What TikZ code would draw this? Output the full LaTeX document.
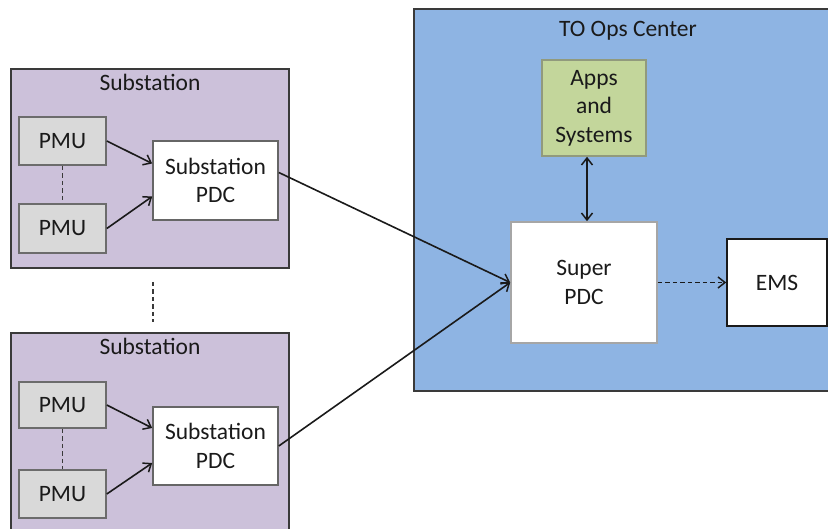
\documentclass[tikz,border=0pt]{standalone}
\usepackage{fontspec}
\setmainfont{Carlito}
\usetikzlibrary{arrows.meta}
\definecolor{subfill}{HTML}{CCC1DA}
\definecolor{opsfill}{HTML}{8EB4E3}
\definecolor{appfill}{HTML}{C3D69B}
\definecolor{pmufill}{HTML}{D9D9D9}
\definecolor{txt}{HTML}{1A1A1A}
\definecolor{edge}{HTML}{3A3A3A}
\tikzset{
  every node/.style={font=\fontsize{23.5}{28.5}\selectfont, text=txt},
  outerbox/.style={draw=edge, line width=1.6pt},
  box/.style={rectangle, inner sep=0pt, align=center, line width=1.6pt},
  pmubox/.style={box, fill=pmufill, draw=gray!85!black, minimum width=87pt},
  pdcbox/.style={box, fill=white, draw=gray!80!black, minimum width=125pt, minimum height=78pt},
  tip/.tip={Straight Barb[length=7pt,width=11pt,line width=1.5pt]},
  link/.style={line width=1.6pt, draw=txt, -tip},
  dline/.style={line width=1.6pt, draw=edge, dash pattern=on 4.5pt off 3pt},
}
\begin{document}
\begin{tikzpicture}[x=1pt,y=-1pt]
\useasboundingbox (0,0) rectangle (828,529);
\clip (0,0) rectangle (828,529);
% top substation
\draw[outerbox, fill=subfill] (11,69) rectangle (289,268);
\node[anchor=base] (t1) at (150,91) {Substation};
\node[pmubox, minimum height=48pt] (pa1) at (62.5,141) {PMU};
\node[pmubox, minimum height=49pt] (pa2) at (62.5,228.5) {PMU};
\node[pdcbox, minimum height=79pt] (da) at (215.5,180.5) {Substation\\PDC};
\draw[link] (pa1.east) -- ([yshift=17pt]da.west);
\draw[link] (pa2.east) -- ([yshift=-16pt]da.west);
\draw[dline] (pa1.south) -- (pa2.north);
% dots between
\coordinate (v1) at (153,282);
\coordinate (v2) at (153,322);
\draw[dline] (v1) -- (v2);
% bottom substation
\draw[outerbox, fill=subfill] (11,560) -- (11,333) -- (289,333) -- (289,560);
\node[anchor=base] (t2) at (150,355) {Substation};
\node[pmubox, minimum height=46pt] (pb1) at (62.5,405) {PMU};
\node[pmubox, minimum height=48pt] (pb2) at (62.5,494) {PMU};
\node[pdcbox] (db) at (215.5,446) {Substation\\PDC};
\draw[link] (pb1.east) -- ([yshift=18pt]db.west);
\draw[link] (pb2.east) -- ([yshift=-17pt]db.west);
\draw[dline] (pb1.south) -- (pb2.north);
% TO Ops Center
\draw[outerbox, fill=opsfill] (840,9) -- (414,9) -- (414,391) -- (840,391);
\node[anchor=base] (t3) at (628,37) {TO Ops Center};
\node[box, fill=appfill, draw=appfill!60!black!80, minimum width=104pt, minimum height=96pt] (app) at (594,108) {Apps\\and\\Systems};
\node[box, fill=white, draw=gray!70, minimum width=146pt, minimum height=121pt] (sup) at (584,282.5) {Super\\PDC};
\node[box, fill=white, draw=txt, minimum width=100pt, minimum height=87pt] (ems) at (777,282.5) {EMS};
\draw[link, tip-tip] (app.south -| 587,0) -- (sup.north -| 587,0);
\draw[link, dash pattern=on 4.5pt off 3pt] (sup.east) -- (ems.west);
\draw[link] ([yshift=8pt]da.east) -- (sup.west);
\draw[link] (db.east) -- (sup.west);
\end{tikzpicture}
\end{document}
